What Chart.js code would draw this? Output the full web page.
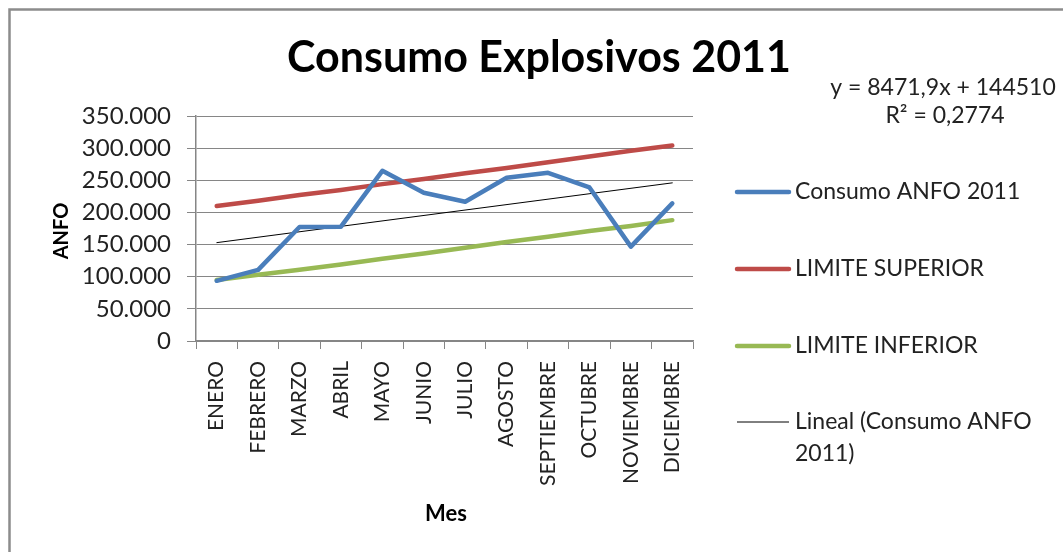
<!DOCTYPE html>
<html>
<head>
<meta charset="utf-8">
<title>Consumo Explosivos 2011</title>
<script src="https://cdn.jsdelivr.net/npm/chart.js@4"></script>
<style>
  html, body { margin: 0; padding: 0; background: #fff; }
  #wrap { width: 1063px; height: 552px; position: relative; }
</style>
</head>
<body>
<div id="wrap"><canvas id="myChart" width="1063" height="552"></canvas></div>
<script>
// months on the x axis
const months = [
  "ENERO", "FEBRERO", "MARZO", "ABRIL", "MAYO", "JUNIO",
  "JULIO", "AGOSTO", "SEPTIEMBRE", "OCTUBRE", "NOVIEMBRE", "DICIEMBRE",
];

// values
const consumoAnfo = [93600, 110600, 177300, 177900, 264700, 230600, 216600, 253900, 261600, 238900, 146800, 214000];
const limiteSuperior = [210000, 218000, 227000, 235000, 244000, 252000, 261000, 269000, 278000, 287000, 296000, 304000];
const limiteInferior = [95000, 103000, 111000, 119000, 128000, 136000, 145000, 154000, 162000, 171000, 179000, 188000];
// trend line, only its two ends (straight line between them)
const lineal = [153000, null, null, null, null, null, null, null, null, null, null, 246000];

const yMax = 350000;
const yStep = 50000;

const trendText = ["y = 8471,9x + 144510", "R\u00B2 = 0,2774"];

const FONT = "Lato, 'Open Sans', sans-serif";

// format 350000 as 350.000
function formatMiles(v) {
  return String(v).replace(/\B(?=(\d{3})+(?!\d))/g, ".");
}

// draws border, title, axis titles, equation and legend
const excelDecor = {
  id: "excelDecor",
  afterDraw(chart) {
    const ctx = chart.ctx;
    ctx.save();

    // chart area border
    ctx.strokeStyle = "#8c8c8c";
    ctx.lineWidth = 2.5;
    ctx.strokeRect(9.5, 9.5, 1200, 700);

    ctx.fillStyle = "#000";
    ctx.textAlign = "center";
    ctx.textBaseline = "middle";

    // title
    ctx.font = "bold 43px " + FONT;
    ctx.fillText("Consumo Explosivos 2011", 539, 58);

    // trend equation
    ctx.font = "23px " + FONT;
    ctx.fillStyle = "#222";
    ctx.fillText(trendText[0], 943, 88);
    ctx.fillText(trendText[1], 945, 116);

    // axis titles
    ctx.fillStyle = "#000";
    ctx.font = "bold 22px " + FONT;
    ctx.fillText("Mes", 446, 514);
    ctx.font = "bold 20px " + FONT;
    ctx.save();
    ctx.translate(62, 231);
    ctx.rotate(-Math.PI / 2);
    ctx.fillText("ANFO", 0, 0);
    ctx.restore();

    // legend
    const legendY = [192, 269, 346, 422];
    const textX = 795;
    const maxW = 1060 - textX;
    ctx.font = "23px " + FONT;
    ctx.textAlign = "left";
    chart.data.datasets.forEach(function (ds, i) {
      const y = legendY[i];
      ctx.strokeStyle = ds.borderColor;
      ctx.lineWidth = ds.borderWidth;
      ctx.lineCap = ds.borderWidth > 2 ? "round" : "butt";
      ctx.beginPath();
      ctx.moveTo(737, y);
      ctx.lineTo(789, y);
      ctx.stroke();

      // simple word wrap
      const words = ds.label.split(" ");
      let lines = [];
      let line = "";
      for (let w = 0; w < words.length; w++) {
        const test = line ? line + " " + words[w] : words[w];
        if (ctx.measureText(test).width > maxW && line) {
          lines.push(line);
          line = words[w];
        } else {
          line = test;
        }
      }
      lines.push(line);
      ctx.fillStyle = "#222";
      for (let l = 0; l < lines.length; l++) {
        ctx.fillText(lines[l], textX, y + l * 32);
      }
    });

    ctx.restore();
  },
};

const data = {
  labels: months,
  datasets: [
    {
      label: "Consumo ANFO 2011",
      data: consumoAnfo,
      borderColor: "#4a7ebb",
      borderWidth: 4.5,
    },
    {
      label: "LIMITE SUPERIOR",
      data: limiteSuperior,
      borderColor: "#be4b48",
      borderWidth: 4.5,
    },
    {
      label: "LIMITE INFERIOR",
      data: limiteInferior,
      borderColor: "#98b954",
      borderWidth: 4.5,
    },
    {
      label: "Lineal (Consumo ANFO 2011)",
      data: lineal,
      borderColor: "#000000",
      borderWidth: 1,
      spanGaps: true,
    },
  ],
};

const config = {
  type: "line",
  data: data,
  options: {
    responsive: false,
    animation: false,
    layout: {
      padding: { top: 116, right: 370, bottom: 0, left: 0 },
    },
    elements: {
      point: { radius: 0, hoverRadius: 0 },
      line: { tension: 0, borderJoinStyle: "round", borderCapStyle: "round" },
    },
    plugins: {
      legend: { display: false },
      title: { display: false },
      tooltip: { enabled: false },
    },
    scales: {
      x: {
        offset: true,
        grid: {
          offset: true,
          drawOnChartArea: false,
          drawTicks: true,
          tickLength: 8,
          color: "#868686",
        },
        border: { color: "#868686", width: 1.5 },
        ticks: {
          autoSkip: false,
          minRotation: 90,
          maxRotation: 90,
          padding: 12,
          color: "#222",
          font: { family: FONT, size: 21 },
        },
        afterFit(scale) {
          scale.height = 552 - 341;
        },
      },
      y: {
        min: 0,
        max: yMax,
        grid: {
          color: "#868686",
          tickLength: 9,
        },
        border: { color: "#868686", width: 1.5 },
        ticks: {
          stepSize: yStep,
          padding: 16,
          color: "#222",
          font: { family: FONT, size: 24 },
          callback: function (value) {
            return formatMiles(value);
          },
        },
        afterFit(scale) {
          scale.width = 196;
        },
      },
    },
  },
  plugins: [excelDecor],
};

const myChart = new Chart(document.getElementById("myChart"), config);
</script>
</body>
</html>
